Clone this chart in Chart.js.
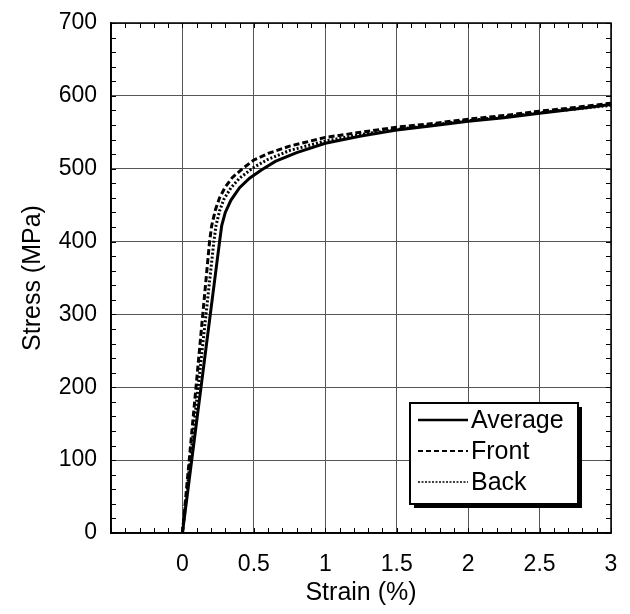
<!DOCTYPE html>
<html>
<head>
<meta charset="utf-8">
<script src="https://cdn.jsdelivr.net/npm/chart.js@4"></script>
<style>
  html, body { margin: 0; padding: 0; background: #fff; }
  #wrap { width: 630px; height: 614px; }
</style>
</head>
<body>
<div id="wrap"><canvas id="stress"></canvas></div>
<script>
// values (strain in %, stress in MPa)
const averageStrain = [0, 0.26, 0.275, 0.30, 0.34, 0.40, 0.47, 0.55, 0.65, 0.80, 1.0, 1.25, 1.5, 1.75, 2.0, 2.25, 2.5, 2.75, 3.0];
const averageStress = [0, 400, 422, 440, 457, 474, 487, 498, 510, 522, 535, 545, 553, 559, 565, 570, 576, 582, 588];

const frontStrain = [0, 0.19, 0.205, 0.23, 0.26, 0.30, 0.35, 0.42, 0.50, 0.60, 0.75, 1.0, 1.25, 1.5, 1.75, 2.0, 2.25, 2.5, 2.75, 3.0];
const frontStress = [0, 400, 422, 443, 460, 475, 488, 500, 512, 521, 531, 543, 550, 557, 562, 568, 573, 579, 584, 590];

const backStrain = [0, 0.22, 0.235, 0.26, 0.29, 0.34, 0.40, 0.50, 0.60, 0.75, 1.0, 1.25, 1.5, 1.75, 2.0, 2.25, 2.5, 2.75, 3.0];
const backStress = [0, 400, 422, 442, 458, 474, 487, 502, 513, 525, 538, 547, 554, 560, 566, 571, 577, 582, 587];

const seriesNames = ['Average', 'Front', 'Back'];
const seriesDash = [[], [6, 3], [2, 2]];

const xMin = -0.5, xMax = 3, xStep = 0.5, xMinor = 0.1;
const yMin = 0, yMax = 700, yStep = 100, yMinor = 20;

const FONT = 'Arial, "Liberation Sans", sans-serif';

function pts(xs, ys) {
  return xs.map((x, i) => ({ x: x, y: ys[i] }));
}

// frame + small inner ticks on all four sides
const framePlugin = {
  id: 'frame',
  beforeDatasetsDraw(chart) {
    const { ctx, chartArea: a, scales } = chart;
    ctx.save();
    ctx.strokeStyle = '#000';
    ctx.lineWidth = 1;
    ctx.beginPath();
    for (let v = xMin; v <= xMax + 1e-9; v += xMinor) {
      const px = Math.round(scales.x.getPixelForValue(v)) + 0.5;
      ctx.moveTo(px, a.bottom); ctx.lineTo(px, a.bottom - 5);
      ctx.moveTo(px, a.top); ctx.lineTo(px, a.top + 5);
    }
    for (let v = yMin; v <= yMax + 1e-9; v += yMinor) {
      const py = Math.round(scales.y.getPixelForValue(v)) + 0.5;
      ctx.moveTo(a.left, py); ctx.lineTo(a.left + 5, py);
      ctx.moveTo(a.right, py); ctx.lineTo(a.right - 5, py);
    }
    ctx.stroke();
    ctx.lineWidth = 1.5;
    ctx.strokeRect(a.left, a.top, a.right - a.left, a.bottom - a.top);
    ctx.restore();
  }
};

// boxed legend with drop shadow, inside the plot
const boxLegend = {
  id: 'boxLegend',
  afterDraw(chart) {
    const ctx = chart.ctx;
    const bx = 410, by = 403, bw = 168, bh = 101;
    ctx.save();
    ctx.fillStyle = '#000';
    ctx.fillRect(bx + 4, by + 4, bw, bh);
    ctx.fillStyle = '#fff';
    ctx.fillRect(bx, by, bw, bh);
    ctx.strokeStyle = '#000';
    ctx.lineWidth = 2;
    ctx.strokeRect(bx, by, bw, bh);

    const widths = [2.5, 2, 1.5];
    const dashes = [[], [5, 3], [2, 1.5]];
    ctx.font = '25px ' + FONT;
    ctx.textBaseline = 'middle';
    seriesNames.forEach((name, i) => {
      const y = by + 17 + i * 31;
      ctx.beginPath();
      ctx.setLineDash(dashes[i]);
      ctx.lineWidth = widths[i];
      ctx.moveTo(418, y);
      ctx.lineTo(468, y);
      ctx.stroke();
      ctx.setLineDash([]);
      ctx.fillStyle = '#000';
      ctx.fillText(name, 471, y + 1);
    });
    ctx.restore();
  }
};

const allStrain = [averageStrain, frontStrain, backStrain];
const allStress = [averageStress, frontStress, backStress];

new Chart(document.getElementById('stress'), {
  type: 'scatter',
  data: {
    datasets: seriesNames.map((name, i) => ({
      label: name,
      data: pts(allStrain[i], allStress[i]),
      showLine: true,
      borderColor: '#000',
      borderWidth: 3,
      borderDash: seriesDash[i],
      pointRadius: 0,
      tension: 0
    }))
  },
  options: {
    responsive: true,
    maintainAspectRatio: false,
    animation: false,
    layout: { padding: { top: 23, right: 19, left: 0, bottom: 0 } },
    plugins: { legend: { display: false }, tooltip: { enabled: false } },
    scales: {
      x: {
        type: 'linear',
        min: xMin, max: xMax,
        afterFit: s => { s.height = 81; s.paddingLeft = 0; s.paddingRight = 0; },
        ticks: {
          stepSize: xStep,
          padding: 18,
          maxRotation: 0,
          color: '#000',
          font: { family: FONT, size: 23 },
          callback: v => v < 0 ? '' : String(v)
        },
        grid: { color: '#555', lineWidth: 1, drawTicks: false },
        border: { color: '#000', width: 1.5 },
        title: {
          display: true, text: 'Strain (%)', color: '#000',
          font: { family: FONT, size: 25 },
          padding: { top: 0, bottom: 6 }
        }
      },
      y: {
        min: yMin, max: yMax,
        afterFit: s => { s.width = 111; s.paddingTop = 0; s.paddingBottom = 0; },
        ticks: {
          stepSize: yStep,
          padding: 14,
          color: '#000',
          font: { family: FONT, size: 23 }
        },
        grid: { color: '#555', lineWidth: 1, drawTicks: false },
        border: { color: '#000', width: 1.5 },
        title: {
          display: true, text: 'Stress (MPa)', color: '#000',
          font: { family: FONT, size: 25 },
          padding: { top: 18, bottom: 0 }
        }
      }
    }
  },
  plugins: [framePlugin, boxLegend]
});
</script>
</body>
</html>
